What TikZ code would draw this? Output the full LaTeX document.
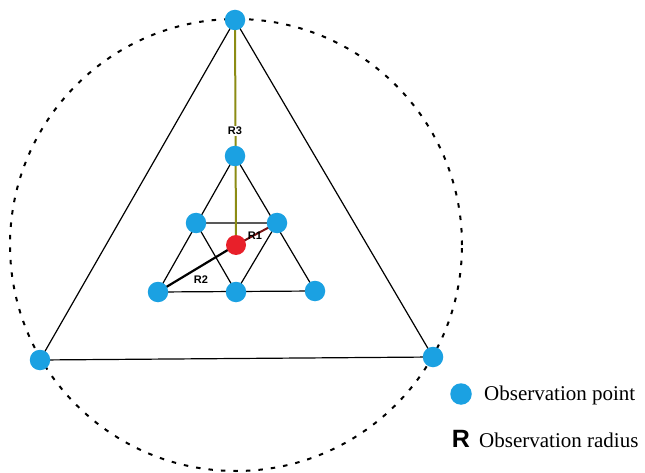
\documentclass[tikz,border=0pt]{standalone}
\usepackage{fontspec}
\setmainfont{Liberation Serif}
\newfontfamily\lsans{Liberation Sans}
\definecolor{obsblue}{RGB}{27,161,226}
\definecolor{obsred}{RGB}{232,32,42}
\definecolor{olivel}{RGB}{140,140,20}
\definecolor{darkr}{RGB}{120,20,20}
\begin{document}
\begin{tikzpicture}[x=1pt,y=-1pt,
  obs/.style={circle,fill=obsblue,inner sep=0pt,minimum size=20.5pt},
  ctr/.style={circle,fill=obsred,inner sep=0pt,minimum size=20pt},
  edge/.style={line width=1.2pt,black},
  rlab/.style={font=\lsans\bfseries\fontsize{11}{12}\selectfont,inner sep=0pt}]
\useasboundingbox (0,0) rectangle (645,473);
% dashed circle
\node[circle,draw,line width=2pt,dash pattern=on 4.5pt off 8pt,minimum size=452pt,inner sep=0pt] (circ) at (236,245) {};
% coordinates
\coordinate (T) at (235,20);
\coordinate (BL) at (40,360);
\coordinate (BR) at (433,357);
\coordinate (t) at (235,156);
\coordinate (ml) at (196,223);
\coordinate (mr) at (277,223);
\coordinate (bl) at (158,292);
\coordinate (bm) at (236,292);
\coordinate (br) at (315,291);
\coordinate (c) at (236,245);
% big triangle
\draw[edge] (T) -- (BL) -- (BR) -- cycle;
% small triangle
\draw[edge] (t) -- (bl) -- (br) -- cycle;
\draw[edge] (ml) -- (mr) -- (bm) -- cycle;
% radii
\draw[line width=2pt,olivel] (T) -- (c);
\draw[line width=2.2pt,black] (bl) -- (c);
\draw[line width=2pt,darkr] (c) -- (mr);
% points
\node[obs] (nT) at (T) {};
\node[obs] (nBL) at (BL) {};
\node[obs] (nBR) at (BR) {};
\node[obs] (nt) at (t) {};
\node[obs] (nml) at (ml) {};
\node[obs] (nmr) at (mr) {};
\node[obs] (nbl) at (bl) {};
\node[obs] (nbm) at (bm) {};
\node[obs] (nbr) at (br) {};
\node[ctr] (nc) at (c) {};
% labels
\node[rlab,fill=white,inner sep=1pt] (r3) at (235,131) {R3};
\node[rlab] (r1) at (255,236) {R1};
\node[rlab] (r2) at (201,280) {R2};
% legend
\node[obs,minimum size=21.5pt] (lg) at (461,394) {};
\node[anchor=west,font=\fontsize{21}{22}\selectfont,inner sep=0pt] (lt1) at (484,395) {Observation point};
\node[font=\lsans\bfseries\fontsize{25}{26}\selectfont,inner sep=0pt] (lr) at (461,439) {R};
\node[anchor=west,font=\fontsize{21}{22}\selectfont,inner sep=0pt] (lt2) at (479,440) {Observation radius};
\end{tikzpicture}
\end{document}
